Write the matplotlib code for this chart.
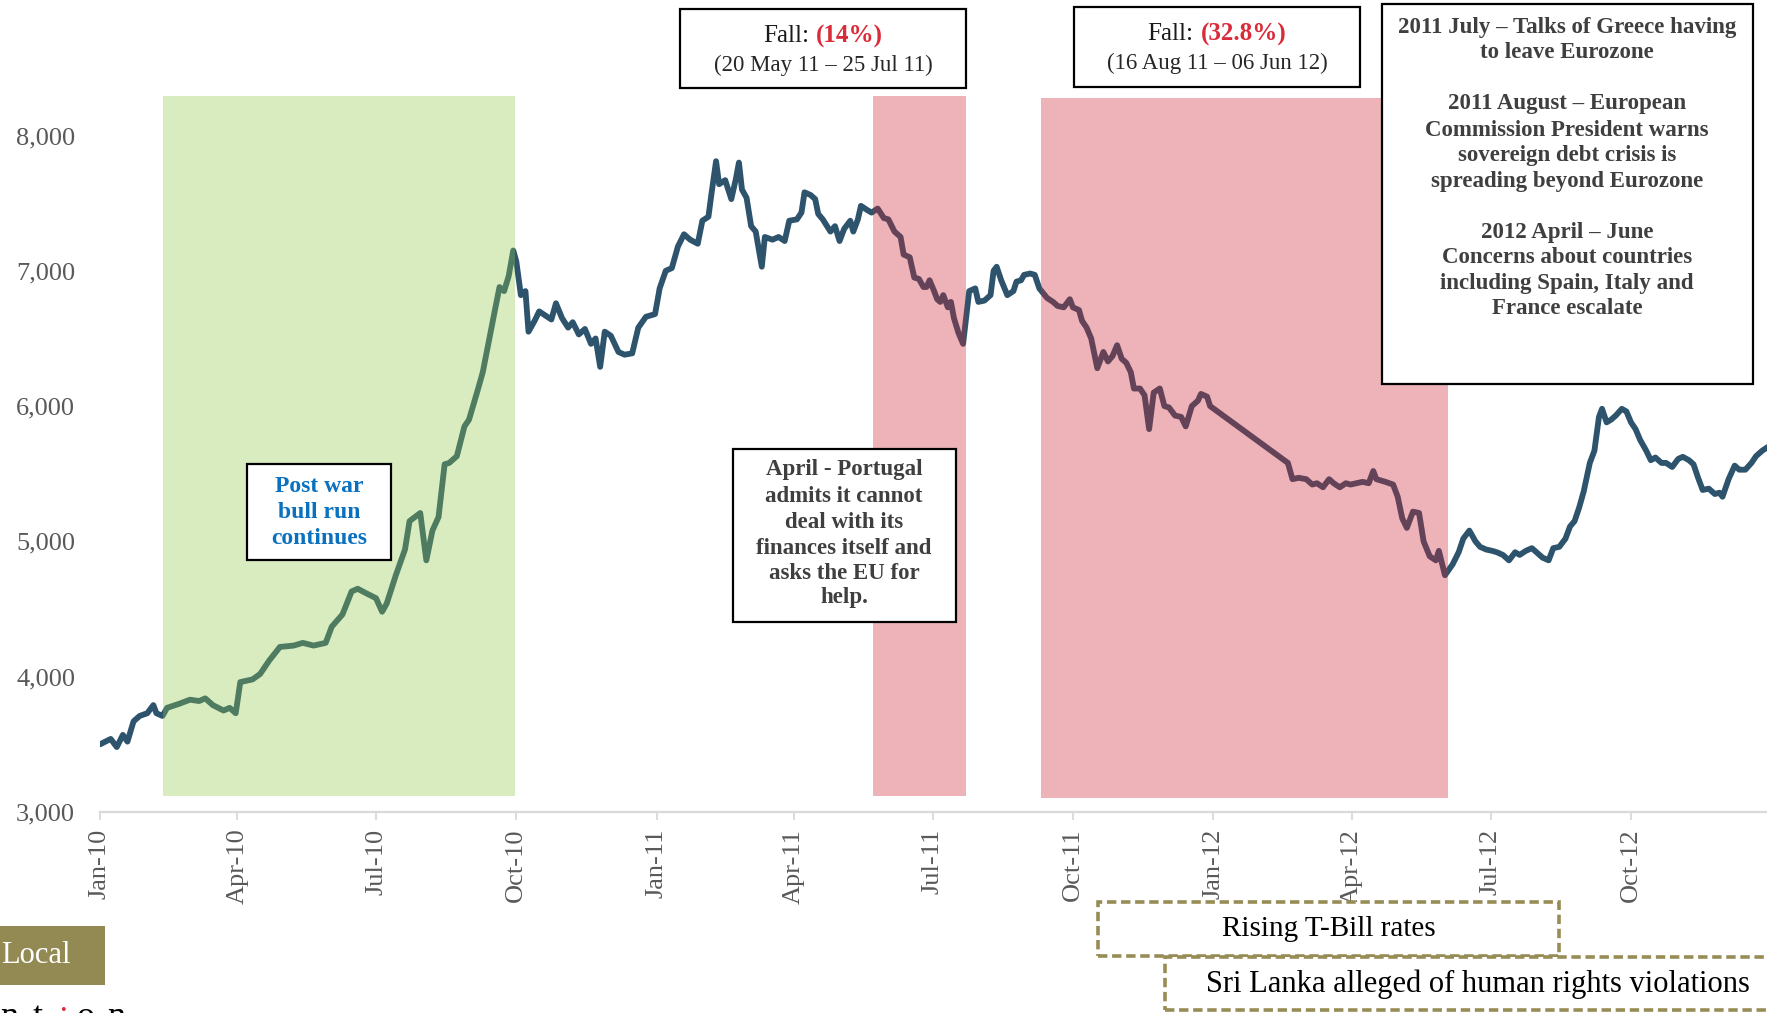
import matplotlib
matplotlib.use("Agg")
import matplotlib.pyplot as plt
import matplotlib.dates as mdates
import pandas as pd
from matplotlib.patches import Rectangle
from matplotlib.offsetbox import TextArea, HPacker, AnchoredOffsetbox

plt.rcParams["font.family"] = ["Liberation Serif", "DejaVu Serif"]

# ---- All Share Price Index (closing levels) ----
dates = [
    "2010-01-01", "2010-01-08", "2010-01-12", "2010-01-16", "2010-01-19", "2010-01-23", "2010-01-27", "2010-02-01", "2010-02-05", "2010-02-07",
    "2010-02-11", "2010-02-14", "2010-02-22", "2010-03-01", "2010-03-07", "2010-03-11", "2010-03-16", "2010-03-23", "2010-03-27", "2010-03-31",
    "2010-04-03", "2010-04-11", "2010-04-16", "2010-04-22", "2010-04-29", "2010-05-08", "2010-05-14", "2010-05-21", "2010-05-29", "2010-06-02",
    "2010-06-09", "2010-06-15", "2010-06-19", "2010-06-24", "2010-07-01", "2010-07-05", "2010-07-08", "2010-07-14", "2010-07-20", "2010-07-23",
    "2010-07-30", "2010-08-03", "2010-08-07", "2010-08-11", "2010-08-15", "2010-08-18", "2010-08-23", "2010-08-28", "2010-08-31", "2010-09-06",
    "2010-09-09", "2010-09-14", "2010-09-17", "2010-09-20", "2010-09-23", "2010-09-26", "2010-09-29", "2010-10-01", "2010-10-04", "2010-10-07",
    "2010-10-09", "2010-10-13", "2010-10-16", "2010-10-20", "2010-10-24", "2010-10-27", "2010-10-31", "2010-11-04", "2010-11-07", "2010-11-11",
    "2010-11-15", "2010-11-19", "2010-11-22", "2010-11-25", "2010-11-28", "2010-12-02", "2010-12-07", "2010-12-11", "2010-12-16", "2010-12-20",
    "2010-12-25", "2010-12-31", "2011-01-03", "2011-01-07", "2011-01-11", "2011-01-15", "2011-01-19", "2011-01-23", "2011-01-28", "2011-01-31",
    "2011-02-04", "2011-02-06", "2011-02-09", "2011-02-11", "2011-02-15", "2011-02-19", "2011-02-22", "2011-02-24", "2011-02-26", "2011-03-01",
    "2011-03-04", "2011-03-07", "2011-03-11", "2011-03-13", "2011-03-18", "2011-03-22", "2011-03-26", "2011-03-29", "2011-04-03", "2011-04-06",
    "2011-04-08", "2011-04-12", "2011-04-15", "2011-04-17", "2011-04-20", "2011-04-25", "2011-04-28", "2011-05-01", "2011-05-04", "2011-05-08",
    "2011-05-10", "2011-05-13", "2011-05-15", "2011-05-19", "2011-05-22", "2011-05-26", "2011-05-30", "2011-06-02", "2011-06-06", "2011-06-10",
    "2011-06-12", "2011-06-16", "2011-06-19", "2011-06-22", "2011-06-25", "2011-06-27", "2011-06-29", "2011-07-02", "2011-07-04", "2011-07-06",
    "2011-07-08", "2011-07-11", "2011-07-13", "2011-07-15", "2011-07-18", "2011-07-21", "2011-07-25", "2011-07-29", "2011-07-31", "2011-08-04",
    "2011-08-08", "2011-08-10", "2011-08-12", "2011-08-15", "2011-08-19", "2011-08-23", "2011-08-25", "2011-08-28", "2011-08-30", "2011-09-03",
    "2011-09-06", "2011-09-09", "2011-09-14", "2011-09-18", "2011-09-21", "2011-09-25", "2011-09-29", "2011-10-01", "2011-10-05", "2011-10-07",
    "2011-10-10", "2011-10-13", "2011-10-17", "2011-10-21", "2011-10-24", "2011-10-27", "2011-10-30", "2011-11-02", "2011-11-05", "2011-11-08",
    "2011-11-10", "2011-11-14", "2011-11-17", "2011-11-20", "2011-11-23", "2011-11-27", "2011-11-30", "2011-12-03", "2011-12-07", "2011-12-11",
    "2011-12-14", "2011-12-18", "2011-12-22", "2011-12-24", "2011-12-28", "2011-12-30", "2012-02-19", "2012-02-22", "2012-02-26", "2012-03-02",
    "2012-03-06", "2012-03-09", "2012-03-13", "2012-03-17", "2012-03-20", "2012-03-24", "2012-03-28", "2012-03-31", "2012-04-08", "2012-04-12",
    "2012-04-15", "2012-04-17", "2012-04-23", "2012-04-28", "2012-05-01", "2012-05-04", "2012-05-07", "2012-05-11", "2012-05-15", "2012-05-18",
    "2012-05-22", "2012-05-26", "2012-05-28", "2012-06-01", "2012-06-06", "2012-06-10", "2012-06-13", "2012-06-17", "2012-06-21", "2012-06-24",
    "2012-06-28", "2012-07-02", "2012-07-05", "2012-07-09", "2012-07-13", "2012-07-17", "2012-07-20", "2012-07-24", "2012-07-28", "2012-07-31",
    "2012-08-04", "2012-08-08", "2012-08-11", "2012-08-15", "2012-08-19", "2012-08-22", "2012-08-25", "2012-08-28", "2012-08-31", "2012-09-04",
    "2012-09-07", "2012-09-10", "2012-09-12", "2012-09-15", "2012-09-18", "2012-09-21", "2012-09-25", "2012-09-28", "2012-10-01", "2012-10-04",
    "2012-10-07", "2012-10-11", "2012-10-14", "2012-10-17", "2012-10-21", "2012-10-24", "2012-10-28", "2012-11-01", "2012-11-04", "2012-11-08",
    "2012-11-11", "2012-11-14", "2012-11-17", "2012-11-21", "2012-11-25", "2012-11-28", "2012-11-30", "2012-12-04", "2012-12-08", "2012-12-11",
    "2012-12-15", "2012-12-19", "2012-12-22", "2012-12-26", "2012-12-30",
]
aspi = [
    3500, 3540, 3480, 3570, 3520, 3670, 3710, 3730, 3790, 3730,
    3710, 3770, 3800, 3830, 3820, 3840, 3790, 3750, 3770, 3730,
    3960, 3980, 4020, 4120, 4220, 4230, 4250, 4230, 4250, 4370,
    4460, 4630, 4650, 4620, 4580, 4480, 4540, 4750, 4940, 5150,
    5210, 4860, 5080, 5180, 5570, 5580, 5630, 5850, 5900, 6130,
    6250, 6540, 6710, 6880, 6850, 6960, 7150, 7070, 6820, 6850,
    6550, 6630, 6700, 6670, 6640, 6760, 6650, 6580, 6620, 6530,
    6570, 6460, 6500, 6290, 6550, 6520, 6400, 6380, 6390, 6580,
    6660, 6680, 6870, 7000, 7020, 7180, 7270, 7230, 7200, 7370,
    7400, 7570, 7810, 7640, 7670, 7530, 7680, 7800, 7600, 7540,
    7330, 7290, 7030, 7250, 7230, 7250, 7220, 7370, 7380, 7430,
    7580, 7560, 7530, 7420, 7380, 7290, 7330, 7220, 7310, 7370,
    7290, 7380, 7480, 7450, 7430, 7460, 7390, 7380, 7290, 7250,
    7120, 7100, 6950, 6940, 6880, 6880, 6930, 6850, 6790, 6770,
    6820, 6730, 6770, 6650, 6540, 6460, 6850, 6870, 6770, 6780,
    6820, 7000, 7030, 6930, 6820, 6850, 6920, 6930, 6970, 6980,
    6970, 6870, 6800, 6770, 6740, 6730, 6790, 6730, 6710, 6630,
    6580, 6500, 6280, 6400, 6330, 6370, 6450, 6350, 6320, 6250,
    6130, 6130, 6080, 5830, 6100, 6130, 6000, 5990, 5930, 5920,
    5850, 6000, 6040, 6090, 6070, 6000, 5580, 5460, 5470, 5460,
    5420, 5430, 5400, 5460, 5430, 5400, 5430, 5420, 5440, 5430,
    5520, 5460, 5440, 5420, 5330, 5170, 5100, 5220, 5210, 5000,
    4890, 4860, 4930, 4750, 4830, 4920, 5020, 5080, 5000, 4960,
    4940, 4930, 4920, 4900, 4860, 4920, 4900, 4930, 4950, 4920,
    4880, 4860, 4950, 4960, 5020, 5110, 5150, 5250, 5370, 5580,
    5670, 5920, 5980, 5880, 5900, 5930, 5980, 5960, 5880, 5830,
    5750, 5670, 5600, 5620, 5580, 5580, 5550, 5610, 5625, 5600,
    5570, 5470, 5380, 5390, 5350, 5360, 5330, 5460, 5560, 5530,
    5530, 5580, 5630, 5670, 5700,
]

# Highlighted periods: bull run, then the two falls
span_start = ["2010-02-11", "2011-05-23", "2011-09-10"]
span_end = ["2010-09-30", "2011-07-23", "2012-06-03"]
span_low = [3120, 3120, 3100]
span_high = [8290, 8290, 8275]
span_kind = ["bull", "fall", "fall"]

y_ticks = [3000, 4000, 5000, 6000, 7000, 8000]

# ---- colours ----
LINE = "#2e546d"
SPAN_COL = {"bull": "#8ec84b", "fall": "#cb2334"}
SPAN_ALPHA = 0.345
TICK_GREY = "#595959"
AXIS_GREY = "#d9d9d9"
NOTE_GREY = "#3f3f3f"
RED = "#d92b3a"
BLUE = "#0a70c0"
OLIVE = "#978c55"

W, H = 1767, 1013
fig = plt.figure(figsize=(W / 100, H / 100), dpi=100)


def fx(px):
    return px / W


def fy(py):
    return 1 - py / H


ax = fig.add_axes([fx(100), fy(812), 1 - fx(100), 812 / H])
x_start = pd.Timestamp("2010-01-01")
ax.set_xlim(x_start, x_start + pd.Timedelta(days=(W - 100) / 1.5249))
ax.set_ylim(3000, 3000 + 812 / 0.1353)

ax.plot(pd.to_datetime(dates), aspi, color=LINE, lw=4.2,
        solid_joinstyle="round", solid_capstyle="round", zorder=2)

for s, e, lo, hi, k in zip(span_start, span_end, span_low, span_high, span_kind):
    x0 = mdates.date2num(pd.Timestamp(s))
    x1 = mdates.date2num(pd.Timestamp(e))
    ax.add_patch(Rectangle((x0, lo), x1 - x0, hi - lo, facecolor=SPAN_COL[k],
                           alpha=SPAN_ALPHA, edgecolor="none", zorder=3))

# axes styling
for side in ["top", "right", "left"]:
    ax.spines[side].set_visible(False)
ax.spines["bottom"].set_color(AXIS_GREY)
ax.spines["bottom"].set_linewidth(1.6)
ax.set_yticks(y_ticks)
ax.yaxis.set_major_formatter(matplotlib.ticker.StrMethodFormatter("{x:,.0f}"))
ax.xaxis.set_major_locator(mdates.MonthLocator(bymonth=[1, 4, 7, 10]))
ax.xaxis.set_major_formatter(mdates.DateFormatter("%b-%y"))
ax.tick_params(axis="x", length=6, width=1.3, color=AXIS_GREY, labelcolor=TICK_GREY,
               labelsize=19, pad=6, labelrotation=90)
ax.tick_params(axis="y", length=0, labelcolor=TICK_GREY, labelsize=19, pad=18)
ax.patch.set_alpha(0)


def box(x0, y0, x1, y1, ec="black", lw=1.6, ls="-", fc="white"):
    fig.add_artist(Rectangle((fx(x0), fy(y1)), fx(x1) - fx(x0), fy(y0) - fy(y1),
                             transform=fig.transFigure, facecolor=fc, edgecolor=ec,
                             lw=lw, ls=ls, zorder=5))


def line_text(cx, cy, s, **kw):
    fig.text(fx(cx), fy(cy), s, ha="center", va="center", zorder=6, **kw)


def fall_box(x0, y0, x1, y1, pct, period):
    box(x0, y0, x1, y1)
    cx = (x0 + x1) / 2
    head = HPacker(children=[
        TextArea("Fall:", textprops=dict(fontsize=18, color="#1a1a1a")),
        TextArea(pct, textprops=dict(fontsize=18, color=RED, fontweight="bold")),
    ], align="baseline", pad=0, sep=5)
    fig.add_artist(AnchoredOffsetbox(loc="center", child=head, pad=0, borderpad=0,
                                     frameon=False, bbox_to_anchor=(fx(cx), fy(y0 + 27)),
                                     bbox_transform=fig.transFigure, zorder=6))
    line_text(cx, y0 + 56, period, fontsize=16.5, color="#262626")


fall_box(680, 9, 966, 88, "(14%)", "(20 May 11 \u2013 25 Jul 11)")
fall_box(1074, 7, 1360, 87, "(32.8%)", "(16 Aug 11 \u2013 06 Jun 12)")

# Eurozone timeline notes
box(1382, 4, 1753, 384)
euro_lines = [
    ("2011 July \u2013 Talks of Greece having", 27),
    ("to leave Eurozone", 53),
    ("2011 August \u2013 European", 104),
    ("Commission President warns", 130),
    ("sovereign debt crisis is", 156),
    ("spreading beyond Eurozone", 181),
    ("2012 April \u2013 June", 232),
    ("Concerns about countries", 257),
    ("including Spain, Italy and", 283),
    ("France escalate", 309),
]
for s, y in euro_lines:
    line_text(1567, y, s, fontsize=16.5, fontweight="bold", color=NOTE_GREY)

# Bull run note
box(247, 464, 391, 560)
for s, y in [("Post war", 487), ("bull run", 512), ("continues", 538)]:
    line_text(319, y, s, fontsize=17, fontweight="bold", color=BLUE)

# Portugal note
box(733, 449, 956, 622)
portugal = [("April - Portugal", 470), ("admits it cannot", 496), ("deal with its", 522),
            ("finances itself and", 548), ("asks the EU for", 573), ("help.", 598)]
for s, y in portugal:
    line_text(844, y, s, fontsize=16.5, fontweight="bold", color=NOTE_GREY)

# Local factors (dashed olive boxes)
box(1098, 902, 1559, 956, ec=OLIVE, lw=2.6, ls=(0, (2.6, 1.3)))
line_text(1329, 929, "Rising T-Bill rates", fontsize=21, color="black")
box(1165, 957, 1790, 1010, ec=OLIVE, lw=2.6, ls=(0, (2.6, 1.3)))
line_text(1478, 984, "Sri Lanka alleged of human rights violations", fontsize=22, color="black")

box(-5, 926, 105, 985, ec="none", fc="#938953")
fig.text(fx(1), fy(955), "Local", ha="left", va="center", fontsize=22, color="white", zorder=6)

# partially visible caption along the bottom edge
for ch, x, col, base in [("n", 0, "black", 1026), ("t", 33, "black", 1026), ("i", 58, RED, 1031),
                         ("o", 77, "black", 1026), ("n", 107, "black", 1026)]:
    fig.text(fx(x), fy(base), ch, ha="left", va="baseline", fontsize=26, color=col, zorder=6)

fig.savefig("out.png", dpi=100)
